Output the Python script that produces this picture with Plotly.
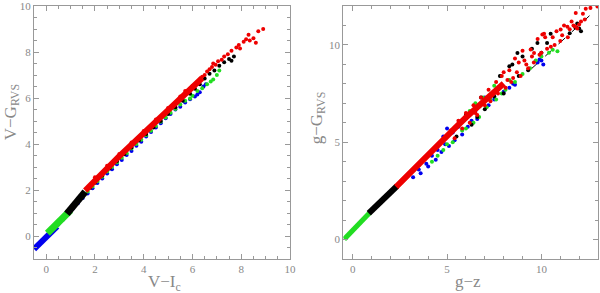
import plotly.graph_objects as go

# ---------------- LEFT PANEL DATA (V-Ic vs V-G_RVS) ----------------
# dense bands (drawn as thick lines)
blue_band_L_x = [-0.5, -0.25, 0.0, 0.25, 0.45]
blue_band_L_y = [-0.57, -0.3, -0.03, 0.22, 0.42]
green_band_L_x = [0.05, 0.3, 0.55, 0.8, 1.0]
green_band_L_y = [0.12, 0.38, 0.66, 0.93, 1.12]
black_band_L_x = [0.85, 1.1, 1.35, 1.6]
black_band_L_y = [0.97, 1.3, 1.6, 1.92]
red_band_L_x = [1.6, 2.0, 2.5, 3.0, 3.5, 4.0, 4.5, 5.0, 5.5, 6.0, 6.4]
red_band_L_y = [1.97, 2.42, 2.95, 3.47, 3.97, 4.47, 4.95, 5.44, 5.94, 6.44, 6.87]

# scattered points
blue_L_x = [0.5, 0.7, 0.9, 1.1, 1.3, 1.5, 1.7, 1.9, 2.1, 2.3, 2.5, 2.7, 2.9, 3.1, 3.3, 3.5, 3.7,
            3.9, 4.1, 4.3, 4.5, 4.7, 4.9, 5.1, 5.3, 5.5, 5.7, 5.9, 6.1, 6.2, 6.3, 6.45, 6.55]
blue_L_y = [0.5, 0.72, 0.95, 1.2, 1.42, 1.65, 1.85, 2.08, 2.3, 2.5, 2.72, 2.9, 3.12, 3.3, 3.52, 3.7, 3.92,
            4.1, 4.33, 4.52, 4.72, 4.9, 5.12, 5.3, 5.5, 5.62, 5.8, 5.95, 6.06, 6.15, 6.25, 6.5, 6.6]
green_L_x = [1.1, 1.3, 1.5, 1.7, 1.9, 2.1, 2.3, 2.5, 2.7, 2.9, 3.1, 3.3, 3.5, 3.7, 3.9, 4.1, 4.3,
             4.5, 4.7, 4.9, 5.1, 5.3, 5.5, 5.7, 5.9, 6.0, 6.2, 6.4, 6.6, 6.75, 6.85, 7.0, 7.1]
green_L_y = [1.28, 1.5, 1.72, 1.94, 2.15, 2.38, 2.58, 2.8, 3.0, 3.2, 3.4, 3.6, 3.8, 4.0, 4.18, 4.38, 4.58,
             4.78, 4.97, 5.15, 5.36, 5.52, 5.72, 5.88, 5.98, 6.1, 6.3, 6.42, 6.6, 6.72, 6.8, 7.0, 7.2]
black_L_x = [1.8, 2.0, 2.3, 2.6, 2.9, 3.2, 3.5, 3.8, 4.1, 4.4, 4.7, 5.0, 5.3, 5.6, 5.9, 6.1, 6.3,
             6.5, 6.7, 6.9, 7.1, 7.3, 7.5, 7.6, 7.7]
black_L_y = [2.1, 2.32, 2.63, 2.93, 3.25, 3.55, 3.85, 4.15, 4.43, 4.72, 5.0, 5.3, 5.6, 5.88, 6.18, 6.4, 6.6,
             6.85, 7.05, 7.2, 7.4, 7.55, 7.7, 7.62, 7.8]
red_L_x = [2.0, 2.5, 3.0, 3.5, 4.0, 4.5, 5.0, 5.5, 5.7, 6.0, 6.2, 6.3, 6.4, 6.5, 6.6, 6.7, 6.8, 6.85,
           6.95, 7.05, 7.2, 7.3, 7.45, 7.6, 7.8, 7.9, 7.95, 8.1, 8.2, 8.3, 8.35, 8.5, 8.6, 8.7, 8.9]
red_L_y = [2.55, 3.05, 3.57, 4.07, 4.57, 5.07, 5.57, 6.07, 6.3, 6.52, 6.7, 6.8, 6.92, 7.0, 7.15, 7.25, 7.35, 7.5,
           7.45, 7.6, 7.66, 7.8, 7.9, 8.05, 8.2, 8.3, 8.15, 8.45, 8.55, 8.75, 8.5, 8.6, 8.4, 8.9, 9.0]

# ---------------- RIGHT PANEL DATA (g-z vs g-G_RVS) ----------------
green_band_R_x = [-0.45, 0.0, 0.5, 0.9]
green_band_R_y = [0.02, 0.47, 0.98, 1.38]
black_band_R_x = [0.85, 1.3, 1.8, 2.35]
black_band_R_y = [1.35, 1.8, 2.25, 2.75]
red_band_R_x = [2.3, 3.0, 3.5, 4.0, 4.5, 5.0, 5.5, 6.0, 6.5, 7.0, 7.5, 8.0]
red_band_R_y = [2.7, 3.4, 3.9, 4.35, 4.8, 5.3, 5.8, 6.27, 6.72, 7.15, 7.6, 8.02]
fit_R_x = [9.5, 12.55]
fit_R_y = [8.8, 11.5]

blue_R_x = [3.2, 3.5, 3.6, 3.9, 4.0, 4.2, 4.4, 4.5, 4.7, 4.8, 4.9, 5.0, 5.1, 5.3, 5.4, 5.6, 5.8,
            6.0, 6.1, 6.3, 6.5, 6.6, 7.0, 7.2, 7.5, 8.0, 8.3, 8.5, 8.6, 9.8, 9.9, 10.0, 10.1]
blue_R_y = [3.2, 3.6, 3.4, 3.9, 3.75, 4.3, 4.1, 4.6, 4.5, 5.3, 4.9, 5.7, 4.8, 5.5, 5.1, 5.8, 5.4,
            6.3, 5.8, 6.1, 6.6, 6.2, 7.3, 6.9, 7.2, 7.6, 7.8, 8.0, 7.95, 9.1, 9.25, 9.2, 9.0]
green_R_x = [3.5, 4.2, 4.5, 4.8, 5.0, 5.3, 5.5, 5.8, 6.0, 6.2, 6.4, 6.5, 6.7, 6.9, 7.1, 7.3, 7.5,
             7.6, 7.85, 7.9, 8.1, 8.3, 8.6, 9.0, 9.4, 9.7, 10.0, 10.4, 10.6, 10.85]
green_R_y = [3.8, 4.0, 4.3, 4.6, 4.9, 5.0, 5.8, 5.6, 5.7, 6.6, 6.0, 7.0, 6.3, 7.3, 6.8, 7.2, 7.9,
             7.2, 8.4, 7.5, 7.7, 8.2, 8.1, 8.5, 8.8, 9.2, 9.4, 9.6, 9.75, 9.67]
black_R_x = [5.5, 6.0, 6.3, 6.6, 6.8, 7.0, 7.5, 7.8, 8.0, 8.3, 8.46, 8.73, 8.8, 9.0, 9.3, 9.5, 9.79,
             10.0, 10.3, 10.49, 11.5, 11.8, 11.9, 12.0, 12.1]
black_R_y = [5.3, 6.4, 5.9, 6.3, 7.3, 6.7, 7.36, 8.4, 7.5, 8.9, 8.99, 9.59, 8.4, 9.4, 8.7, 9.8, 10.1,
             9.6, 10.1, 10.57, 10.6, 10.9, 11.1, 10.85, 10.7]
red_R_x = [5.2, 5.4, 5.6, 5.8, 6.0, 6.2, 6.4, 6.5, 6.6, 6.8, 7.0, 7.2, 7.3, 7.5, 7.6, 7.7, 7.9, 8.0,
           8.1, 8.2, 8.3, 8.4, 8.5, 8.6, 8.7, 8.8, 8.9, 9.0, 9.1, 9.2, 9.3, 9.43, 9.5, 9.6, 9.61, 9.8,
           9.9, 10.0, 10.05, 10.14, 10.2, 10.3, 10.5, 10.6, 10.7, 10.8, 11.0, 11.02, 11.1, 11.2, 11.38,
           11.4, 11.5, 11.6, 11.7, 11.8, 11.82, 11.9, 12.0, 12.1, 12.2, 12.3, 12.35, 12.6, 12.97]
red_R_y = [5.6, 5.2, 6.1, 5.7, 6.5, 6.0, 6.9, 6.5, 6.4, 7.3, 6.9, 7.7, 7.1, 7.6, 8.1, 7.5, 8.4, 8.6,
           7.8, 8.2, 8.7, 8.1, 8.3, 9.3, 8.6, 9.1, 8.4, 9.7, 9.2, 9.0, 8.8, 9.76, 9.4, 9.1, 9.59, 10.3,
           9.5, 9.6, 10.53, 10.57, 10.4, 9.8, 9.9, 10.4, 10.0, 10.7, 10.2, 10.79, 10.5, 11.0, 10.93,
           10.4, 10.8, 11.2, 11.0, 10.95, 11.64, 10.85, 11.05, 11.2, 11.6, 11.3, 11.86, 11.9, 11.98]

RED = "#ee0000"
GREEN = "#22dd22"
BLUE = "#0000ee"
BLACK = "#000000"
MS = 4

fig = go.Figure()


def band(x, y, color, width, xa, ya):
    fig.add_trace(go.Scatter(x=x, y=y, mode="lines", line=dict(color=color, width=width),
                             xaxis=xa, yaxis=ya, showlegend=False, hoverinfo="skip"))


def pts(x, y, color, xa, ya):
    fig.add_trace(go.Scatter(x=x, y=y, mode="markers", marker=dict(color=color, size=MS, line=dict(width=0)),
                             xaxis=xa, yaxis=ya, showlegend=False))


# left panel
band(blue_band_L_x, blue_band_L_y, BLUE, 6, "x", "y")
pts(blue_L_x, blue_L_y, BLUE, "x", "y")
band(green_band_L_x, green_band_L_y, GREEN, 7, "x", "y")
pts(green_L_x, green_L_y, GREEN, "x", "y")
band(black_band_L_x, black_band_L_y, BLACK, 7, "x", "y")
pts(black_L_x, black_L_y, BLACK, "x", "y")
band(red_band_L_x, red_band_L_y, RED, 6, "x", "y")
pts(red_L_x, red_L_y, RED, "x", "y")

# right panel
fig.add_trace(go.Scatter(x=fit_R_x, y=fit_R_y, mode="lines", line=dict(color="black", width=1, dash="dash"),
                         xaxis="x2", yaxis="y2", showlegend=False))
band(green_band_R_x, green_band_R_y, GREEN, 5, "x2", "y2")
band(black_band_R_x, black_band_R_y, BLACK, 6, "x2", "y2")
pts(blue_R_x, blue_R_y, BLUE, "x2", "y2")
pts(green_R_x, green_R_y, GREEN, "x2", "y2")
pts(black_R_x, black_R_y, BLACK, "x2", "y2")
band(red_band_R_x, red_band_R_y, RED, 6, "x2", "y2")
pts(red_R_x, red_R_y, RED, "x2", "y2")

AX = "#999999"
TF = dict(family="Liberation Serif, Times New Roman, serif", size=11, color="#888888")


def axis(rng, dtick, minor, domain=None, anchor=None):
    d = dict(range=rng, dtick=dtick, tick0=0, ticks="inside", ticklen=5, tickcolor=AX, tickwidth=1,
             minor=dict(dtick=minor, tick0=0, ticks="inside", ticklen=3, tickcolor=AX),
             showline=True, linecolor=AX, linewidth=1, mirror="ticks", showgrid=False, zeroline=False,
             tickfont=TF, automargin=False, ticklabeloverflow="allow")
    if domain is not None:
        d["domain"] = domain
    if anchor is not None:
        d["anchor"] = anchor
    return d


fig.update_layout(
    width=600, height=293,
    margin=dict(l=34, r=2, t=6, b=34),
    paper_bgcolor="white", plot_bgcolor="white",
    xaxis=axis([-0.5, 10.0001], 2, 0.5, domain=[0, 0.4539], anchor="y"),
    yaxis=axis([-1, 10.0001], 2, 0.5, anchor="x"),
    xaxis2=axis([-0.5, 13], 5, 1, domain=[0.5484, 1.0], anchor="y2"),
    yaxis2=axis([-1, 12], 5, 1, anchor="x2"),
)

TT = dict(family="Liberation Serif, Times New Roman, serif", size=17, color="#888888")
fig.add_annotation(text="V−I<sub>c</sub>", xref="paper", yref="paper", x=0.232, y=-0.042,
                   showarrow=False, font=TT, xanchor="center", yanchor="top")
fig.add_annotation(text="V−G<sub>RVS</sub>", xref="paper", yref="paper", x=-0.039, y=0.58,
                   showarrow=False, font=TT, textangle=-90, xanchor="center", yanchor="middle")
fig.add_annotation(text="g−z", xref="paper", yref="paper", x=0.7695, y=-0.042,
                   showarrow=False, font=TT, xanchor="center", yanchor="top")
fig.add_annotation(text="g−G<sub>RVS</sub>", xref="paper", yref="paper", x=0.5035, y=0.56,
                   showarrow=False, font=TT, textangle=-90, xanchor="center", yanchor="middle")

fig.write_html("out.html", config={"displayModeBar": False},
               post_script="document.body.style.margin='0';document.body.style.padding='0';")
